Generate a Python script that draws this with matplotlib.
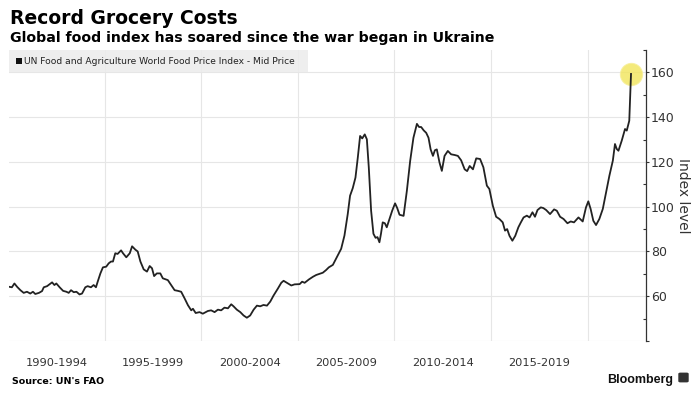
import matplotlib
matplotlib.use("Agg")
import matplotlib.pyplot as plt
from matplotlib.patches import Rectangle, FancyBboxPatch

# ---- data (decimal year, index value) ----
years = [
    1990.07, 1990.20, 1990.33, 1990.47, 1990.64, 1990.81, 1990.98, 1991.15, 1991.29, 1991.41,
    1991.60, 1991.76, 1991.85, 1992.02, 1992.20, 1992.28, 1992.40, 1992.50, 1992.67, 1992.85,
    1993.02, 1993.14, 1993.26, 1993.40, 1993.54, 1993.70, 1993.83, 1994.00, 1994.12, 1994.29,
    1994.43, 1994.55, 1994.64, 1994.78, 1994.91, 1995.08, 1995.21, 1995.33, 1995.43, 1995.55,
    1995.67, 1995.85, 1995.95, 1996.12, 1996.30, 1996.42, 1996.59, 1996.71, 1996.85, 1997.02,
    1997.19, 1997.33, 1997.45, 1997.56, 1997.70, 1997.88, 1998.01, 1998.27, 1998.44, 1998.62,
    1998.79, 1998.96, 1999.14, 1999.31, 1999.48, 1999.57, 1999.71, 1999.91, 2000.08, 2000.34,
    2000.51, 2000.69, 2000.86, 2001.03, 2001.20, 2001.38, 2001.55, 2001.67, 2001.84, 2002.02,
    2002.19, 2002.36, 2002.53, 2002.71, 2002.88, 2003.05, 2003.22, 2003.40, 2003.57, 2003.74,
    2003.97, 2004.14, 2004.26, 2004.43, 2004.66, 2004.83, 2005.09, 2005.22, 2005.35, 2005.57,
    2005.78, 2005.95, 2006.12, 2006.29, 2006.46, 2006.60, 2006.81, 2007.05, 2007.24, 2007.41,
    2007.58, 2007.70, 2007.84, 2007.98, 2008.10, 2008.22, 2008.33, 2008.46, 2008.57, 2008.67,
    2008.79, 2008.91, 2009.02, 2009.12, 2009.22, 2009.30, 2009.39, 2009.50, 2009.60, 2009.70,
    2009.88, 2010.03, 2010.14, 2010.26, 2010.47, 2010.64, 2010.81, 2010.98, 2011.16, 2011.27,
    2011.38, 2011.51, 2011.64, 2011.76, 2011.87, 2011.99, 2012.09, 2012.19, 2012.33, 2012.45,
    2012.59, 2012.76, 2012.93, 2013.11, 2013.28, 2013.45, 2013.63, 2013.76, 2013.89, 2014.06,
    2014.23, 2014.43, 2014.60, 2014.78, 2014.91, 2015.09, 2015.26, 2015.43, 2015.60, 2015.72,
    2015.83, 2015.95, 2016.10, 2016.25, 2016.41, 2016.54, 2016.68, 2016.85, 2016.99, 2017.14,
    2017.27, 2017.40, 2017.57, 2017.70, 2017.85, 2018.05, 2018.26, 2018.40, 2018.57, 2018.75,
    2018.95, 2019.12, 2019.29, 2019.52, 2019.74, 2019.91, 2020.03, 2020.15, 2020.29, 2020.43,
    2020.60, 2020.78, 2020.95, 2021.12, 2021.30, 2021.41, 2021.50, 2021.59, 2021.76, 2021.93,
    2022.02, 2022.15, 2022.24,
]
index_values = [
    64.2, 64.0, 65.7, 64.2, 62.7, 61.5, 62.0, 61.2, 62.0, 61.0,
    61.5, 62.3, 64.0, 64.5, 65.7, 66.2, 65.0, 65.7, 64.0, 62.4,
    62.0, 61.5, 62.7, 61.8, 62.0, 60.8, 61.2, 64.0, 64.5, 64.0,
    65.0, 64.0, 66.5, 70.2, 72.9, 73.2, 74.7, 75.5, 75.5, 79.2,
    78.9, 80.5, 79.2, 77.4, 79.2, 82.3, 80.8, 80.0, 75.5, 72.0,
    71.0, 73.5, 72.5, 69.0, 70.2, 70.2, 68.0, 67.2, 65.0, 62.7,
    62.4, 62.0, 59.0, 56.0, 53.7, 54.4, 52.5, 52.9, 52.2, 53.4,
    53.7, 52.9, 54.0, 53.7, 54.9, 54.6, 56.4, 55.5, 54.0, 52.9,
    51.4, 50.4, 51.4, 54.0, 55.8, 55.5, 56.1, 55.8, 57.6, 60.3,
    63.5, 66.0, 66.9, 66.0, 64.8, 65.3, 65.4, 66.5, 66.0, 67.5,
    68.7, 69.5, 70.0, 70.5, 71.7, 72.9, 74.0, 78.0, 81.2, 87.1,
    96.7, 104.9, 108.3, 113.0, 121.9, 131.6, 130.5, 132.3, 130.1, 117.5,
    98.2, 87.9, 86.1, 86.4, 84.1, 87.9, 93.0, 92.6, 90.8, 93.5,
    98.2, 101.5, 99.4, 96.4, 95.9, 107.1, 120.4, 130.8, 137.0, 135.6,
    135.6, 134.1, 133.0, 130.8, 125.6, 122.7, 125.2, 125.6, 119.7, 116.0,
    122.7, 124.9, 123.4, 123.1, 122.7, 120.7, 116.7, 115.9, 118.2, 116.7,
    121.6, 121.3, 117.6, 109.4, 107.9, 100.4, 95.5, 94.5, 93.0, 89.3,
    90.0, 87.0, 84.8, 87.0, 90.8, 93.0, 95.2, 96.0, 95.2, 97.5,
    95.5, 98.5, 99.7, 99.4, 98.5, 96.7, 98.8, 98.2, 95.5, 94.5,
    92.6, 93.4, 93.0, 95.2, 93.4, 99.7, 102.4, 99.0, 93.7, 91.8,
    94.5, 99.0, 106.4, 113.8, 120.6, 128.0, 125.8, 125.0, 129.5, 134.7,
    134.0, 138.4, 159.3,
]

period_centers = [1992.5, 1997.5, 2002.5, 2007.5, 2012.5, 2017.5]
period_labels = ["1990-1994", "1995-1999", "2000-2004", "2005-2009", "2010-2014", "2015-2019"]
period_bounds = [1995, 2000, 2005, 2010, 2015, 2020]
y_ticks = [40, 60, 80, 100, 120, 140, 160]
y_tick_labels = ["", "60", "80", "100", "120", "140", "160"]
y_minor = [50, 70, 90, 110, 130, 150, 170]

title = "Record Grocery Costs"
subtitle = "Global food index has soared since the war began in Ukraine"
series_name = "UN Food and Agriculture World Food Price Index - Mid Price"
source = "Source: UN's FAO"

W, H = 694, 396
fig = plt.figure(figsize=(W / 100, H / 100), dpi=100)
fig.patch.set_facecolor("white")

def fx(px):
    return px / W

def fy(py):
    return 1 - py / H

left, right, top, bottom = 9, 645.7, 50, 341
ax = fig.add_axes([fx(left), fy(bottom), fx(right - left), (bottom - top) / H])
ax.set_facecolor("white")

grid_c = "#e6e6e6"
ax.plot(years, index_values, color="#222222", lw=1.3, zorder=3, solid_joinstyle="round")
ax.plot(years[-1:], index_values[-1:], "o", ms=16, color="#f2e55a", alpha=0.8,
        markeredgewidth=0.8, markeredgecolor="#f7ef9a", zorder=2)

ax.set_xlim(1990.05, 2023.0)
ax.set_ylim(40, 170)

ax.set_xticks(period_centers)
ax.set_xticklabels(period_labels)
ax.set_xticks(period_bounds, minor=True)
ax.tick_params(axis="x", which="both", length=0, pad=12, labelsize=8.2, labelcolor="#333333")
ax.grid(axis="x", which="minor", color=grid_c, lw=0.8)

ax.yaxis.tick_right()
ax.set_yticks(y_ticks)
ax.set_yticklabels(y_tick_labels)
ax.set_yticks(y_minor, minor=True)
ax.tick_params(axis="y", which="major", direction="out", length=2.5, width=0.8,
               pad=1.2, labelsize=9, labelcolor="#333333", color="#333333")
ax.tick_params(axis="y", which="minor", direction="in", length=2.5, width=0.8, color="#333333")
ax.grid(axis="y", which="major", color=grid_c, lw=0.8)
ax.set_axisbelow(True)

for s in ["left", "top", "bottom"]:
    ax.spines[s].set_visible(False)
ax.spines["right"].set_color("#333333")
ax.spines["right"].set_linewidth(0.9)

fig.text(fx(683), fy(195.5), "Index level", rotation=270, ha="center", va="center",
         fontsize=10, color="#333333")

# titles
fig.text(fx(10), fy(24), title, fontsize=13.5, fontweight="bold", ha="left", va="baseline")
fig.text(fx(10), fy(41.7), subtitle, fontsize=10.2, fontweight="bold", ha="left", va="baseline")

# legend box
fig.patches.append(Rectangle((fx(8.5), fy(71.7)), fx(308 - 8.5), (71.7 - 50) / H,
                             transform=fig.transFigure, facecolor="#ececec", alpha=0.85,
                             edgecolor="none", zorder=1))
fig.patches.append(Rectangle((fx(15.5), fy(64)), fx(6.3), 6.3 / H, transform=fig.transFigure,
                             facecolor="#111111", edgecolor="none", zorder=2))
fig.text(fx(24.5), fy(61), series_name, fontsize=6.6, color="#222222", ha="left", va="center")

# footer
fig.text(fx(12), fy(384), source, fontsize=6.8, fontweight="bold", ha="left", va="baseline")
fig.text(fx(673), fy(382.7), "Bloomberg", fontsize=9, fontweight="bold", ha="right",
         va="baseline", family=["Liberation Sans", "DejaVu Sans"], color="#111111")
fig.patches.append(FancyBboxPatch((fx(679), fy(382)), fx(9), 9 / H, transform=fig.transFigure,
                                  boxstyle="round,pad=0.001,rounding_size=0.003",
                                  facecolor="#333333", edgecolor="none", zorder=2))

fig.savefig("out.png", dpi=100, facecolor="white")
